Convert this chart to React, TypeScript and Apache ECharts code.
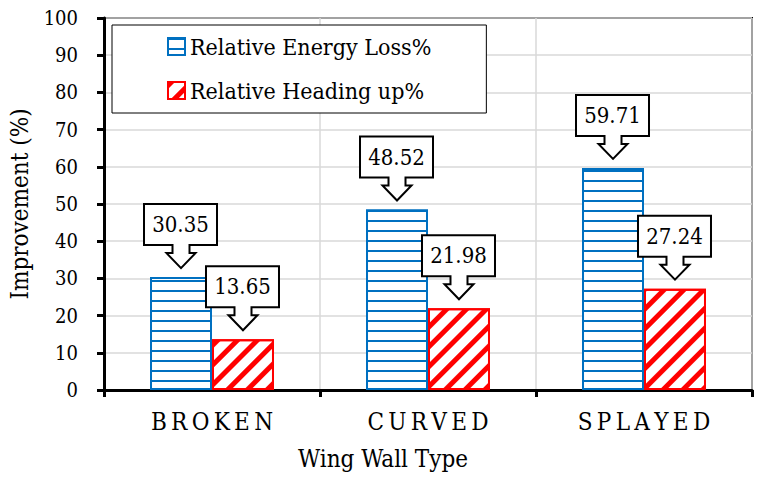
import React, { useEffect, useRef } from "react";
import * as echarts from "echarts";

const categories = ["BROKEN", "CURVED", "SPLAYED"];
const energyLoss = [30.35, 48.52, 59.71];
const headingUp = [13.65, 21.98, 27.24];
const seriesNames = ["Relative Energy Loss%", "Relative Heading up%"];

const FONT = "DejaVu Serif Condensed";
const CAT_GAP = 0.426;

function calloutRenderer(sign: number) {
  return (params: any, api: any) => {
    const v = api.value(1);
    const pt = api.coord([api.value(0), v]);
    const catW = api.size([1, 0])[0];
    const bw = (catW * (1 - CAT_GAP)) / 2;
    const cx = pt[0] + (sign * bw) / 2;
    const tipY = pt[1] - 9;
    const pts = [
      [-37, -64], [36, -64], [36, -23], [8.5, -23], [8.5, -15], [14.5, -15],
      [0, 0], [-14.5, -15], [-8.5, -15], [-8.5, -23], [-37, -23],
    ];
    return {
      type: "group",
      x: cx,
      y: tipY,
      children: [
        {
          type: "polygon",
          shape: { points: pts },
          style: { fill: "#fff", stroke: "#000", lineWidth: 2 },
        },
        {
          type: "text",
          x: -0.5,
          y: -43.5,
          style: {
            text: Number(v).toFixed(2),
            fontFamily: FONT,
            fontSize: 22,
            fill: "#000",
            align: "center",
            verticalAlign: "middle",
          },
        },
      ],
    };
  };
}

export default function App() {
  const ref = useRef<HTMLDivElement>(null);
  useEffect(() => {
    document.body.style.margin = "0";
    const chart = echarts.init(ref.current!, undefined, { renderer: "svg" });
    chart.setOption({
      animation: false,
      backgroundColor: "#fff",
      textStyle: { fontFamily: FONT, color: "#000" },
      grid: {
        left: 104,
        right: 11,
        top: 18,
        bottom: 95,
        show: true,
        borderColor: "#000",
        borderWidth: 2,
        backgroundColor: "transparent",
      },
      legend: {
        data: seriesNames,
        orient: "vertical",
        left: 112,
        top: 25,
        padding: [10, 55, 11, 55],
        itemGap: 21,
        itemWidth: 17,
        itemHeight: 17,
        icon: "rect",
        borderColor: "#000",
        borderWidth: 1,
        backgroundColor: "#fff",
        textStyle: { fontFamily: FONT, fontSize: 23, color: "#000" },
      },
      xAxis: {
        type: "category",
        data: categories,
        boundaryGap: true,
        name: "Wing Wall Type",
        nameLocation: "middle",
        nameGap: 57,
        nameTextStyle: { fontFamily: FONT, fontSize: 24, color: "#000", padding: [0, 90, 0, 0] },
        axisLine: { lineStyle: { color: "#000", width: 3 } },
        axisTick: { show: true, length: 7, lineStyle: { color: "#000", width: 3 } },
        axisLabel: {
          margin: 20,
          fontFamily: FONT,
          fontSize: 24,
          color: "#000",
          formatter: (v: string) => v.split("").join("\u2009"),
        },
        splitLine: { show: true, lineStyle: { color: "#d9d9d9", width: 1.5 } },
      },
      yAxis: {
        type: "value",
        min: 0,
        max: 100,
        interval: 10,
        name: "Improvement (%)",
        nameLocation: "middle",
        nameGap: 72,
        nameTextStyle: { fontFamily: FONT, fontSize: 24, color: "#000" },
        axisLine: { show: true, lineStyle: { color: "#000", width: 3 } },
        axisTick: { show: true, length: 7, lineStyle: { color: "#000", width: 3 } },
        axisLabel: { margin: 26, fontFamily: FONT, fontSize: 20, color: "#000" },
        splitLine: { show: true, lineStyle: { color: "#d9d9d9", width: 1.5 } },
      },
      series: [
        {
          name: seriesNames[0],
          type: "bar",
          data: energyLoss,
          barGap: "0%",
          barCategoryGap: CAT_GAP * 100 + "%",
          itemStyle: {
            color: "#fff",
            borderColor: "#0070C0",
            borderWidth: 2,
            decal: {
              symbol: "rect",
              symbolSize: 1,
              color: "#0070C0",
              dashArrayX: [1, 0],
              dashArrayY: [2, 7.4],
              rotation: 0,
            },
          },
        },
        {
          name: seriesNames[1],
          type: "bar",
          data: headingUp,
          barGap: "0%",
          barCategoryGap: CAT_GAP * 100 + "%",
          itemStyle: {
            color: "#fff",
            borderColor: "#FF0000",
            borderWidth: 2,
            decal: {
              symbol: "rect",
              symbolSize: 1,
              color: "#FF0000",
              dashArrayX: [1, 0],
              dashArrayY: [5, 9],
              rotation: -Math.PI / 4,
            },
          },
        },
        {
          name: "calloutEnergy",
          type: "custom",
          data: energyLoss.map((v, i) => [i, v]),
          encode: { x: 0, y: 1 },
          renderItem: calloutRenderer(-1),
          z: 10,
          silent: true,
        },
        {
          name: "calloutHeading",
          type: "custom",
          data: headingUp.map((v, i) => [i, v]),
          encode: { x: 0, y: 1 },
          renderItem: calloutRenderer(1),
          z: 11,
          silent: true,
        },
      ],
    });
    return () => chart.dispose();
  }, []);
  return (
    <div
      ref={ref}
      style={{ position: "fixed", left: 0, top: 0, width: 763, height: 485 }}
    />
  );
}
